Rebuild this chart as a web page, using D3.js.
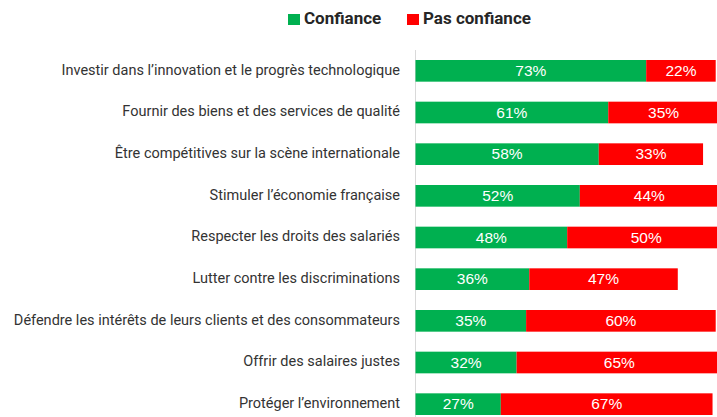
<!DOCTYPE html>
<html>
<head>
<meta charset="utf-8">
<script src="https://cdn.jsdelivr.net/npm/d3@7"></script>
<style>
    body { margin: 0; background: #fff; }
    svg { display: block; }
</style>
</head>
<body>
<div id="chart"></div>
<script>
// data
const categories = [
    "Investir dans l’innovation et le progrès technologique",
    "Fournir des biens et des services de qualité",
    "Être compétitives sur la scène internationale",
    "Stimuler l’économie française",
    "Respecter les droits des salariés",
    "Lutter contre les discriminations",
    "Défendre les intérêts de leurs clients et des consommateurs",
    "Offrir des salaires justes",
    "Protéger l’environnement"
];
const confiance = [73, 61, 58, 52, 48, 36, 35, 32, 27];
const pasConfiance = [22, 35, 33, 44, 50, 47, 60, 65, 67];
const seriesNames = ["Confiance", "Pas confiance"];
const colors = ["#00B050", "#FF0000"];

const width = 717, height = 417;

let svg = d3.select("#chart").append("svg")
    .attr("width", width)
    .attr("height", height);

//scales (chart is cropped on the right, 100% falls past the edge)
let x = d3.scaleLinear().domain([0, 100]).range([415.5, 731.5]);
let y = d3.scaleBand().domain(categories).range([50, 425]).paddingInner(0.48).paddingOuter(0.24);

//axis line
svg.append("line")
    .attr("x1", x(0)).attr("x2", x(0))
    .attr("y1", 50).attr("y2", height)
    .style("stroke", "#d9d9d9")
    .style("stroke-width", 1);

//stacked data
let rows = categories.map((c, i) => ({cat: c, vals: [confiance[i], pasConfiance[i]]}));

let segs = [];
rows.forEach(r => {
    let start = 0;
    r.vals.forEach((v, k) => {
        segs.push({cat: r.cat, k: k, x0: start, x1: start + v, v: v});
        start += v;
    });
});

svg.selectAll(".seg").data(segs).enter()
    .append("rect")
    .attr("class", "seg")
    .attr("x", d => x(d.x0))
    .attr("y", d => y(d.cat))
    .attr("width", d => x(d.x1) - x(d.x0))
    .attr("height", y.bandwidth())
    .style("fill", d => colors[d.k]);

svg.selectAll(".val").data(segs).enter()
    .append("text")
    .attr("class", "val")
    .attr("x", d => (x(d.x0) + x(d.x1)) / 2)
    .attr("y", d => y(d.cat) + y.bandwidth() / 2 + 1)
    .text(d => d.v + "%")
    .style("fill", "#fff")
    .style("font-family", "'Liberation Sans', Arial, sans-serif")
    .style("font-size", "15.5px")
    .style("text-anchor", "middle")
    .style("dominant-baseline", "middle");

//category labels
svg.selectAll(".cat").data(categories).enter()
    .append("text")
    .attr("class", "cat")
    .attr("x", 400)
    .attr("y", d => y(d) + y.bandwidth() / 2)
    .text(d => d)
    .style("fill", "#333")
    .style("font-family", "Roboto, sans-serif")
    .style("font-size", "14.5px")
    .style("text-anchor", "end")
    .style("dominant-baseline", "middle");

//legend
let legendX = [288, 407];
let legend = svg.selectAll(".legend").data(seriesNames).enter()
    .append("g")
    .attr("transform", (d, i) => "translate(" + legendX[i] + ",14)");
legend.append("rect")
    .attr("width", 12).attr("height", 11)
    .style("fill", (d, i) => colors[i]);
legend.append("text")
    .attr("x", 16).attr("y", 6)
    .text(d => d)
    .style("fill", "#262626")
    .style("font-family", "Roboto, sans-serif")
    .style("font-weight", "bold")
    .style("font-size", "17px")
    .style("dominant-baseline", "middle");
</script>
</body>
</html>
